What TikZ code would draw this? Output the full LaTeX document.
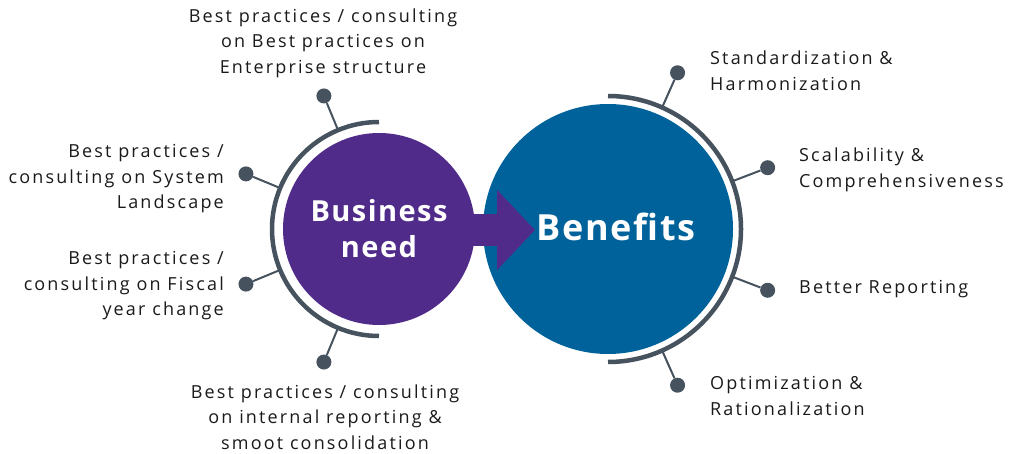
\documentclass[tikz,border=0pt]{standalone}
\usepackage{fontspec}
\setmainfont{Open Sans}
\newfontfamily\lblfont{Open Sans}[LetterSpace=12]
\newfontfamily\titlefont{Open Sans}[LetterSpace=5]
\usetikzlibrary{positioning,arrows.meta}
\definecolor{needpurple}{HTML}{502B89}
\definecolor{benefitblue}{HTML}{00629A}
\definecolor{ringgray}{HTML}{46535F}
\definecolor{labeltext}{HTML}{1A1A1A}
\begin{document}
\begin{tikzpicture}[x=1pt,y=1pt,
  dot/.style={circle,fill=ringgray,inner sep=0pt,minimum size=15pt},
  stem/.style={draw=ringgray,line width=2pt},
  ring/.style={draw=ringgray,line width=4.5pt},
  lbl/.style={font=\lblfont\fontsize{18}{25.5}\selectfont,text=labeltext,inner sep=0pt},
  flow/.style={draw=needpurple,line width=32pt,-{Triangle[length=38pt,width=78pt]}}]
 \useasboundingbox (0,0) rectangle (1016,453);
 % the two circles
 \node[circle,fill=needpurple,minimum size=192pt] (need)     at (379,224) {};
 \node[circle,fill=benefitblue,minimum size=250pt] (benefits) at (608,224) {};
 \coordinate (tip) at (535,223);
 \draw[flow] (440,223) -- (tip);
 \node[text=white,font=\titlefont\fontsize{29}{36}\selectfont\bfseries,align=center] (needtxt) at (need.center) {Business\\need};
 \node[text=white,font=\titlefont\fontsize{36}{40}\selectfont\bfseries] (benefitstxt) at (616,226) {Benefits};
 % rings
 \draw[ring] ([shift={(90:107)}]need.center) arc[start angle=90,end angle=270,radius=107];
 \draw[ring] ([shift={(90:133)}]benefits.center) arc[start angle=90,end angle=-90,radius=133];
 % dots
 \node[dot] (n1) at ([shift={(112.5:144)}]need.center) {};
 \node[dot] (n2) at ([shift={(157.5:144)}]need.center) {};
 \node[dot] (n3) at ([shift={(202.5:144)}]need.center) {};
 \node[dot] (n4) at ([shift={(247.5:144)}]need.center) {};
 \node[dot] (b1) at ([shift={(66:171)}]benefits.center) {};
 \node[dot] (b2) at ([shift={(21:171)}]benefits.center) {};
 \node[dot] (b3) at ([shift={(-21:171)}]benefits.center) {};
 \node[dot] (b4) at ([shift={(-66:171)}]benefits.center) {};
 \foreach \a/\d in {112.5/n1,157.5/n2,202.5/n3,247.5/n4}
  \draw[stem] ([shift={(\a:107)}]need.center) -- (\d);
 \foreach \a/\d in {66/b1,21/b2,-21/b3,-66/b4}
  \draw[stem] ([shift={(\a:133)}]benefits.center) -- (\d);
 % labels
 \node[lbl,align=center]          (l1) at (323,410) {Best practices / consulting\\on Best practices on\\Enterprise structure};
 \node[lbl,align=right,anchor=east] (l2) at (224,274) {Best practices /\\consulting on System\\Landscape};
 \node[lbl,align=right,anchor=east] (l3) at (224,167) {Best practices /\\consulting on Fiscal\\year change};
 \node[lbl,align=center]          (l4) at (325,36)  {Best practices / consulting\\on internal reporting \&\\smoot consolidation};
 \node[lbl,align=left,anchor=west]  (r1) at (710,382) {Standardization \&\\Harmonization};
 \node[lbl,align=left,anchor=west]  (r2) at (799,283) {Scalability \&\\Comprehensiveness};
 \node[lbl,align=left,anchor=west]  (r3) at (799,164) {Better Reporting};
 \node[lbl,align=left,anchor=west]  (r4) at (710,57)  {Optimization \&\\Rationalization};
\end{tikzpicture}
\end{document}
